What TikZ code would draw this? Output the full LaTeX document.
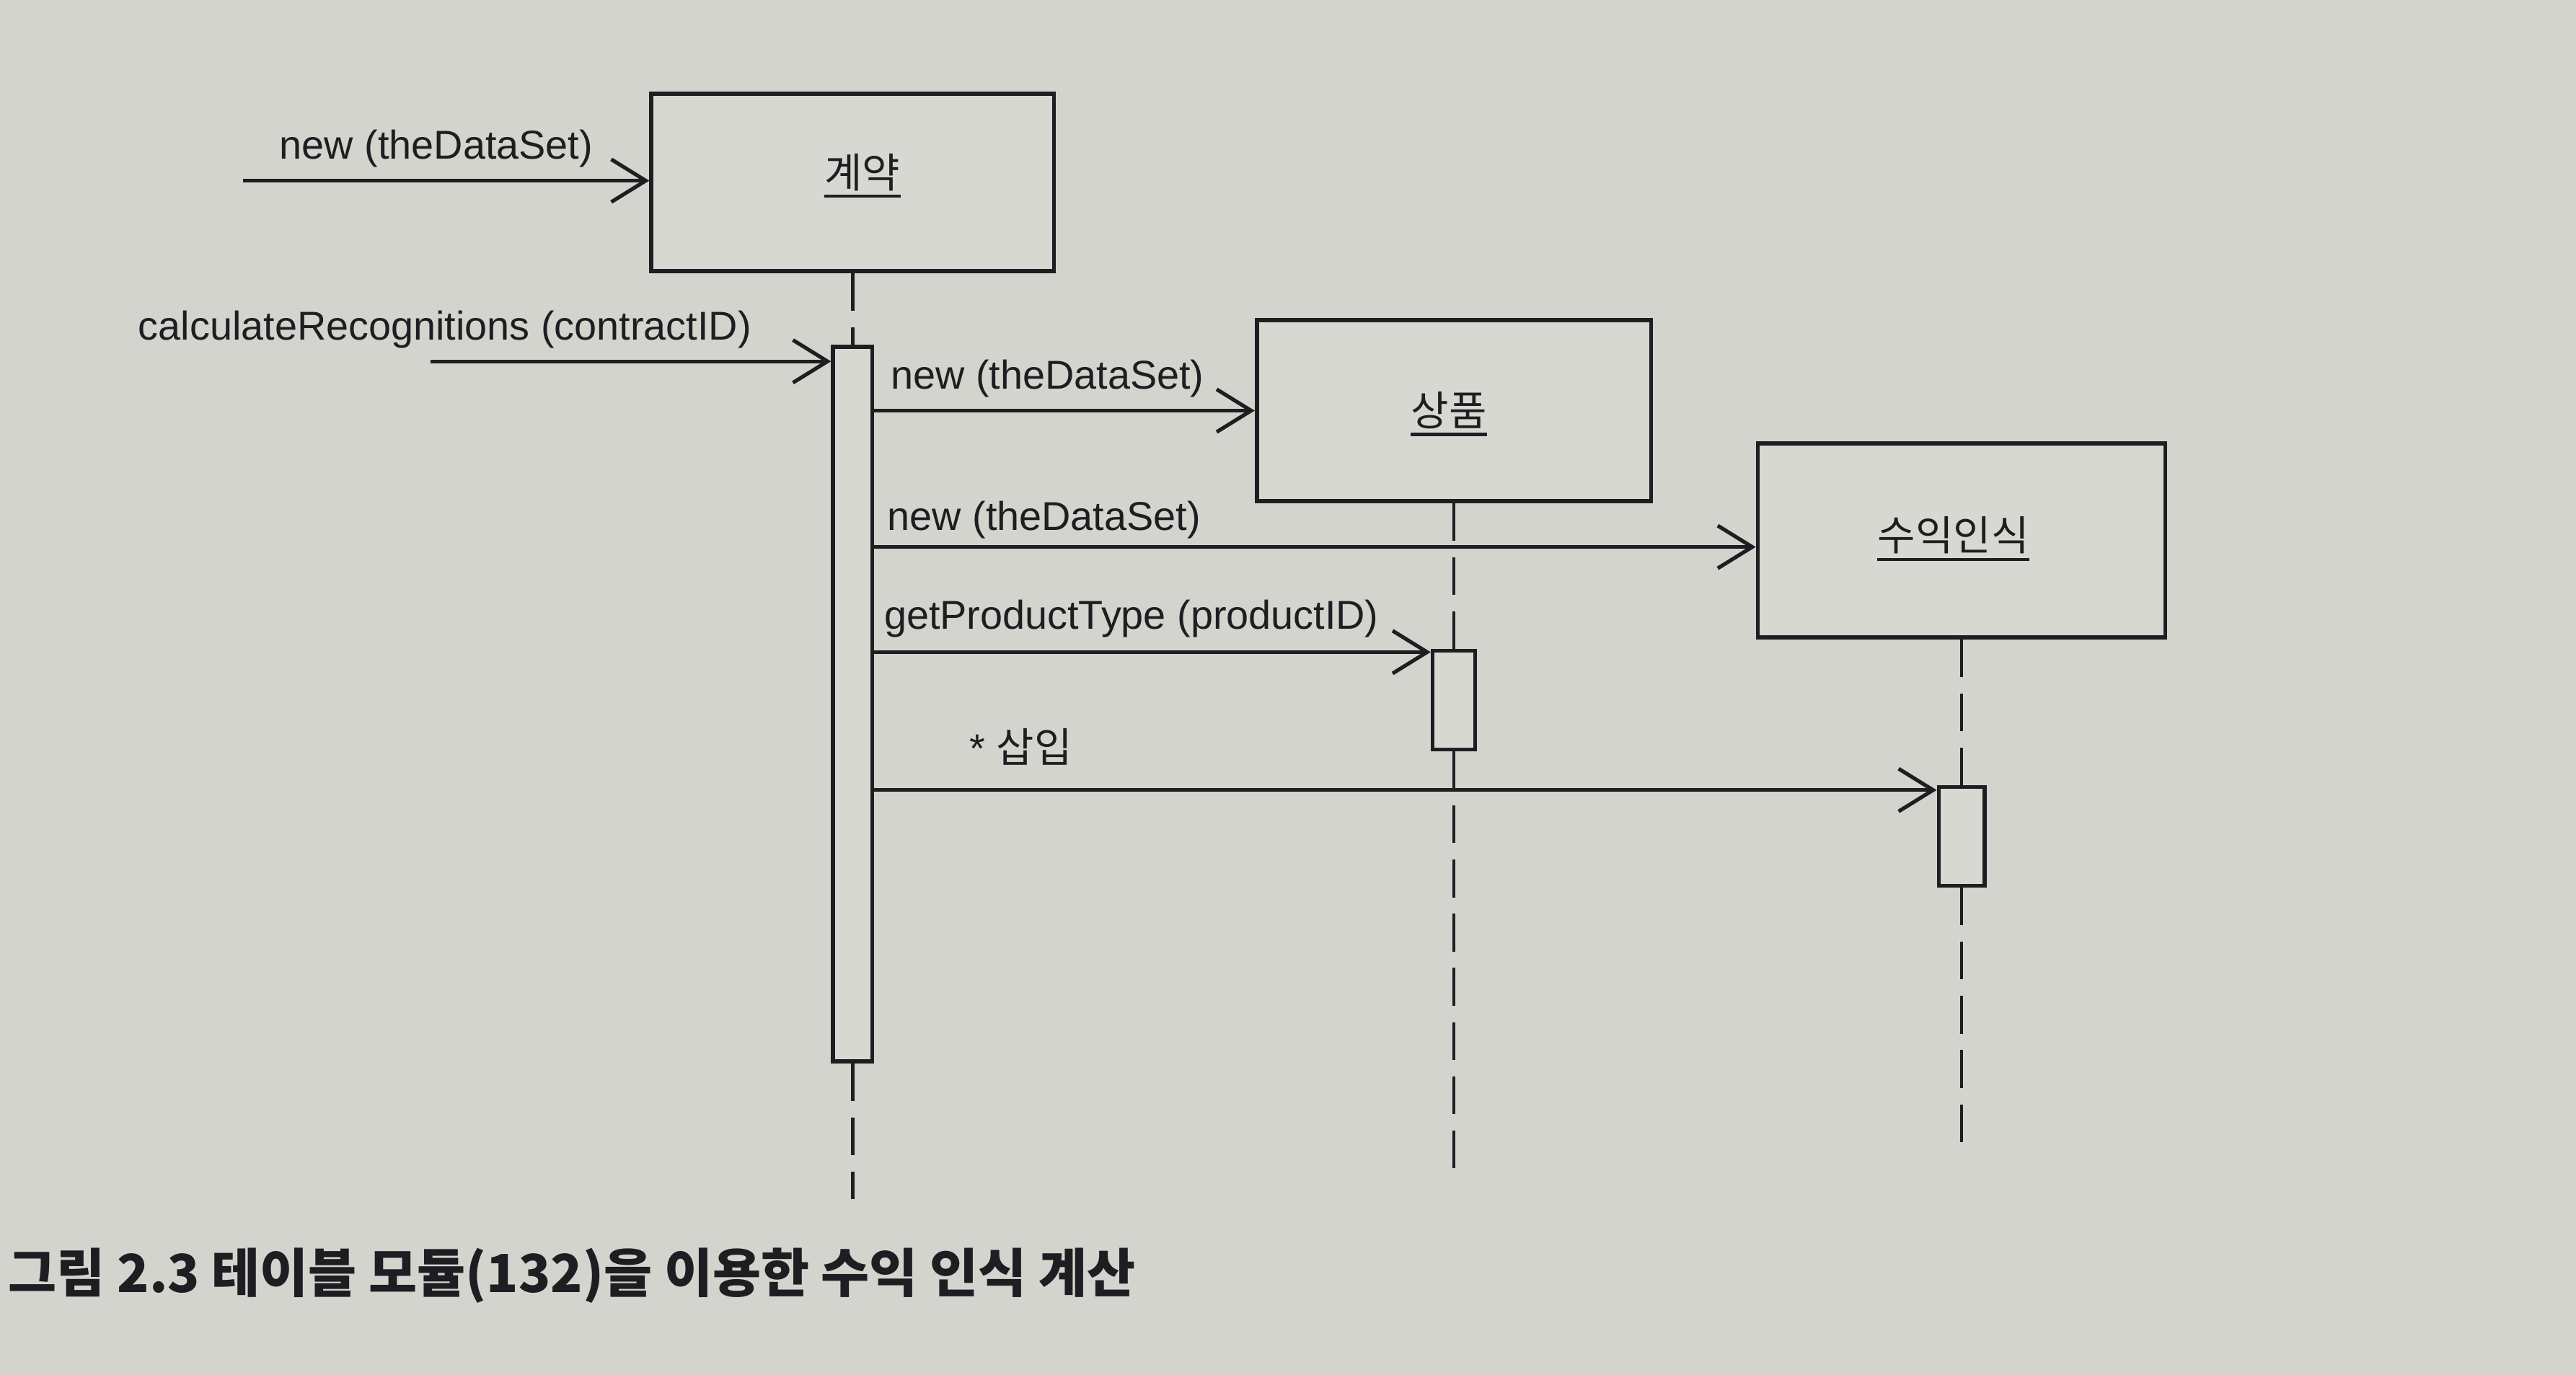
\documentclass[tikz,border=0pt]{standalone}
\usepackage{fontspec}
\setmainfont{Liberation Sans}
\newfontfamily\kr{Noto Sans CJK KR}
\usetikzlibrary{arrows.meta}
\definecolor{paper}{RGB}{212,212,206}
\definecolor{paperb}{RGB}{216,216,210}
\definecolor{ink}{RGB}{30,30,34}
\begin{document}
\begin{tikzpicture}[x=1pt,y=-1pt,
  msg/.style={draw=ink, line width=2.3pt, -{Straight Barb[length=21pt,width=26pt,line width=2.3pt]}},
  obj/.style={draw=ink, line width=2.5pt, fill=paperb, inner sep=0pt},
  act/.style={draw=ink, line width=2.3pt, fill=paperb, inner sep=0pt},
  life/.style={draw=ink, line width=2pt, dash pattern=on 23pt off 10pt},
  lbl/.style={inner sep=0pt, font=\fontsize{24.5}{28}\selectfont, text=ink, anchor=base west},
  klbl/.style={inner sep=0pt, font=\kr\fontsize{25}{28}\selectfont, text=ink},
  uline/.style={draw=ink, line width=1.8pt}]
\fill[paper] (0,0) rectangle (1568,837);
\useasboundingbox (0,0) rectangle (1568,837);

% objects
\node[obj, minimum width=245pt, minimum height=108pt] (c) at (519,111) {};
\node[obj, minimum width=240pt, minimum height=110pt] (p) at (885,250) {};
\node[obj, minimum width=248pt, minimum height=118pt] (r) at (1194,329) {};

\node[klbl] (cl) at (525,105) {계약};
\node[klbl] (pl) at (882,250) {상품};
\node[klbl] (rl) at (1189,326) {수익인식};
\draw[uline] ([yshift=-3pt]cl.south west) -- ([yshift=-3pt]cl.south east);
\draw[uline] ([yshift=-3pt]pl.south west) -- ([yshift=-3pt]pl.south east);
\draw[uline] ([yshift=-3pt]rl.south west) -- ([yshift=-3pt]rl.south east);

% activation bars
\node[act, minimum width=24pt, minimum height=435pt, anchor=north] (ba) at (519,210) {};
\node[act, minimum width=26pt, minimum height=60pt, anchor=north] (pb) at (885,395) {};
\node[act, minimum width=28pt, minimum height=60pt, anchor=north] (rb) at (1194,478) {};

% lifelines
\coordinate (ce) at (519,730);
\coordinate (pe) at (885,715);
\coordinate (re) at (1194,700);
\draw[life] (c.south) -- (ba.north);
\draw[life] (ba.south) -- (ce);
\draw[life] (p.south) -- (pb.north);
\draw[life] (pb.south) -- (pe);
\draw[life] (r.south) -- (rb.north);
\draw[life] (rb.south) -- (re);

% messages
\coordinate (s1) at (148,110);
\coordinate (s2) at (262,220);
\coordinate (y3) at (0,250);
\coordinate (y4) at (0,333);
\coordinate (y5) at (0,397);
\coordinate (y6) at (0,481);
\draw[msg] (s1) -- (s1 -| c.west);
\draw[msg] (s2) -- (s2 -| ba.west);
\draw[msg] (ba.east |- y3) -- (p.west |- y3);
\draw[msg] (ba.east |- y4) -- (r.west |- y4);
\draw[msg] (ba.east |- y5) -- (pb.west |- y5);
\draw[msg] (ba.east |- y6) -- (rb.west |- y6);

\node[lbl] (m1) at (170,97) {new (theDataSet)};
\node[lbl] (m2) at (84,207) {calculateRecognitions (contractID)};
\node[lbl] (m3) at (542,237) {new (theDataSet)};
\node[lbl] (m4) at (540,323) {new (theDataSet)};
\node[lbl] (m5) at (538,383) {getProductType (productID)};
\node[lbl] (m6) at (590,464) {* {\kr\fontsize{25}{28}\selectfont 삽입}};

% caption
\node[inner sep=0pt, anchor=base west, text=ink, font=\kr\bfseries\fontsize{32}{36}\selectfont] (cap) at (5,787) {그림 2.3 테이블 모듈(132)을 이용한 수익 인식 계산};
\end{tikzpicture}
\end{document}
